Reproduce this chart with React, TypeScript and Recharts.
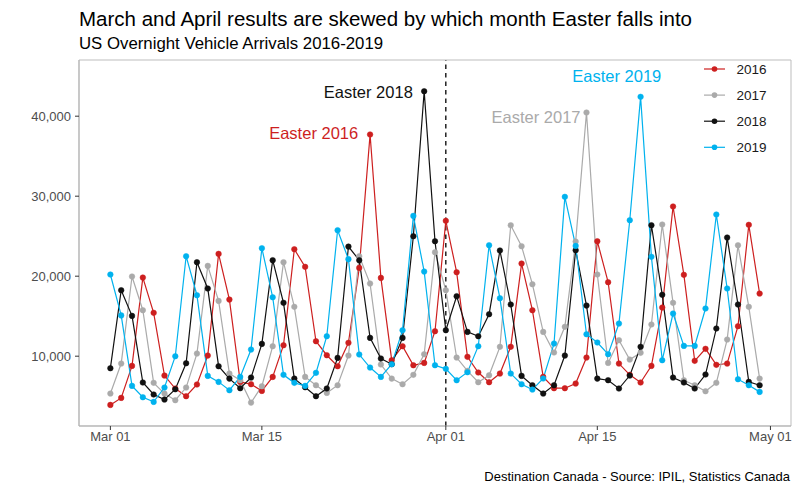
import { LineChart, Line, XAxis, YAxis, ReferenceLine, ReferenceArea, ReferenceDot } from "recharts";

// day index 0 = Mar 01 ... 60 = Apr 30
const days = Array.from({ length: 61 }, (_, i) => i);
const tickDays = [0, 14, 31, 45, 61];
const tickLabels = ["Mar 01", "Mar 15", "Apr 01", "Apr 15", "May 01"];
const yTicks = [10000, 20000, 30000, 40000];

const y2016 = [
  3910, 4790, 8790, 19830, 15420, 7580, 5960, 5000, 6460, 10080,
  22790, 17080, 6790, 6500, 5660, 7410, 11370, 23370, 21170, 11870,
  10120, 8750, 11670, 21040, 37710, 19790, 9500, 11250, 8870, 9160,
  13120, 26920, 20500, 9920, 7960, 6750, 7830, 11170, 21580, 15750,
  7410, 6000, 6000, 6580, 9830, 24370, 19250, 9080, 7670, 6710,
  8790, 16080, 28710, 20170, 9420, 10920, 8920, 9080, 13750, 26420,
  17830,
];
const y2017 = [
  5330, 9080, 19960, 15750, 6670, 5330, 4500, 6080, 10330, 21290,
  16910, 7830, 7000, 4200, 6250, 11250, 21750, 16170, 7410, 6370,
  5410, 6370, 10080, 22500, 19080, 8960, 7200, 6500, 7670, 10250,
  23000, 18250, 9830, 8170, 6750, 7620, 11170, 26370, 23750, 19000,
  13040, 10460, 13670, 24330, 40460, 20210, 9160, 12000, 9580, 10420,
  13960, 26460, 16670, 7000, 6370, 5620, 6670, 12080, 23870, 16170,
  7200,
];
const y2018 = [
  8500, 18250, 15040, 6710, 5210, 4580, 5870, 9120, 21750, 18460,
  8750, 7200, 6000, 7330, 11540, 22000, 16670, 7200, 6120, 5000,
  5960, 9790, 23700, 22000, 12290, 9710, 9000, 12290, 25000, 43120,
  24370, 13250, 17500, 13040, 12500, 15250, 23210, 16460, 7540, 6370,
  5330, 6370, 10080, 23250, 16330, 7200, 7000, 5960, 7580, 11170,
  26370, 17670, 7330, 6710, 5960, 7710, 13460, 24830, 16460, 6790,
  6370,
];
const y2019 = [
  20210, 15100, 6290, 4870, 4290, 6080, 10000, 22500, 17620, 7540,
  6790, 5750, 7410, 10830, 23500, 17370, 7670, 6670, 6290, 7920,
  12500, 25750, 22130, 10210, 8580, 7410, 9000, 13250, 27540, 20580,
  8870, 8420, 7000, 8000, 11250, 23870, 17250, 7830, 6500, 5830,
  7210, 11580, 29920, 23790, 12750, 11710, 10250, 14080, 27000, 42420,
  22420, 9500, 15330, 11290, 11290, 15960, 27710, 18460, 7120, 6370,
  5540,
];

const years = ["2016", "2017", "2018", "2019"];
const colors = ["#cd1f1f", "#aaaaaa", "#111111", "#00b2ee"];

// Easter labels, placed in data space (day, value)
const notes = [
  { text: "Easter 2016", day: 22.9, value: 37900, anchor: "end", color: colors[0] },
  { text: "Easter 2018", day: 27.95, value: 42940, anchor: "end", color: colors[2] },
  { text: "Easter 2017", day: 43.45, value: 39910, anchor: "end", color: colors[1] },
  { text: "Easter 2019", day: 46.8, value: 44940, anchor: "middle", color: colors[3] },
];

const data = days.map((d, i) => ({
  day: d,
  y2016: y2016[i],
  y2017: y2017[i],
  y2018: y2018[i],
  y2019: y2019[i],
}));

const font = "'Liberation Sans', Arial, sans-serif";

export default function App() {
  return (
    <div
      style={{
        position: "absolute",
        left: 0,
        top: 0,
        width: 800,
        height: 494,
        background: "#fff",
        fontFamily: font,
      }}
    >
      <div style={{ position: "absolute", left: 79, top: 7, fontSize: 20.5, lineHeight: "24px", color: "#000" }}>
        March and April results are skewed by which month Easter falls into
      </div>
      <div style={{ position: "absolute", left: 79, top: 34, fontSize: 16.8, lineHeight: "20px", color: "#000" }}>
        US Overnight Vehicle Arrivals 2016-2019
      </div>

      <LineChart width={800} height={494} data={data} margin={{ top: 60, right: 9, left: 0, bottom: 38 }}>
        <ReferenceArea
          x1={-2.9}
          x2={62.9}
          y1={1275}
          y2={47025}
          fill="none"
          stroke="#bdbdbd"
          strokeWidth={1}
          ifOverflow="visible"
        />
        <XAxis
          dataKey="day"
          type="number"
          domain={[-2.9, 62.9]}
          allowDataOverflow
          ticks={tickDays}
          tickFormatter={(v) => tickLabels[tickDays.indexOf(v)]}
          height={30}
          tickSize={4}
          tickMargin={2}
          axisLine={{ stroke: "#b3b3b3" }}
          tickLine={{ stroke: "#333" }}
          tick={{ fill: "#4d4d4d", fontSize: 13, fontFamily: font }}
        />
        <YAxis
          type="number"
          domain={[1275, 47025]}
          allowDataOverflow
          ticks={yTicks}
          tickFormatter={(v) => v.toLocaleString("en-US")}
          width={79}
          tickSize={4}
          tickMargin={4}
          axisLine={{ stroke: "#b3b3b3" }}
          tickLine={{ stroke: "#333" }}
          tick={{ fill: "#4d4d4d", fontSize: 13, fontFamily: font }}
        />
        <ReferenceLine x={31} stroke="#000" strokeWidth={1.3} strokeDasharray="4.5 4" />
        {years.map((yr, i) => (
          <Line
            key={yr}
            type="linear"
            dataKey={`y${yr}`}
            stroke={colors[i]}
            strokeWidth={1.2}
            dot={{ r: 2.8, fill: colors[i], stroke: colors[i], strokeWidth: 0.5 }}
            activeDot={false}
            isAnimationActive={false}
          />
        ))}
        {notes.map((n) => (
          <ReferenceDot
            key={n.text}
            x={n.day}
            y={n.value}
            r={0}
            ifOverflow="visible"
            shape={(p: any) => (
              <text
                x={p.cx}
                y={p.cy}
                dy="0.35em"
                textAnchor={n.anchor}
                fill={n.color}
                fontSize={16.5}
                fontFamily={font}
              >
                {n.text}
              </text>
            )}
          />
        ))}
      </LineChart>

      <svg style={{ position: "absolute", left: 0, top: 0, pointerEvents: "none" }} width={800} height={494}>
        {years.map((yr, i) => {
          const cy = 69 + i * 26.1;
          return (
            <g key={yr}>
              <line x1={704} x2={725} y1={cy} y2={cy} stroke={colors[i]} strokeWidth={1.2} />
              <circle cx={714.5} cy={cy} r={2.8} fill={colors[i]} />
              <text x={736.5} y={cy} dy="0.35em" fontSize={13.5} fill="#1a1a1a" fontFamily={font}>
                {yr}
              </text>
            </g>
          );
        })}
      </svg>

      <div
        style={{
          position: "absolute",
          right: 10,
          top: 469,
          fontSize: 13,
          lineHeight: "16px",
          color: "#000",
          whiteSpace: "nowrap",
        }}
      >
        Destination Canada - Source: IPIL, Statistics Canada
      </div>
    </div>
  );
}
